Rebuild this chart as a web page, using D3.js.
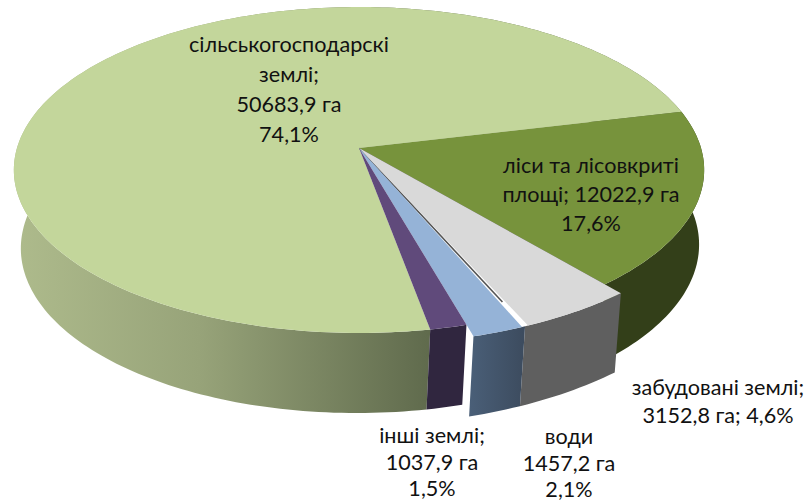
<!DOCTYPE html>
<html>
<head>
<meta charset="utf-8">
<script src="https://cdn.jsdelivr.net/npm/d3@7"></script>
<style>
html,body{margin:0;padding:0;background:#fff;}
text{font-family:Lato,"Open Sans","Noto Sans",sans-serif;font-size:21.6px;fill:#111;text-anchor:middle;}
</style>
</head>
<body>
<div id="chart"></div>
<script>
var categories = ["сільськогосподарскі землі","ліси та лісовкриті площі","забудовані землі","води","інші землі"];
var hectares = [50683.9,12022.9,3152.8,1457.2,1037.9];
var labelLines = [
    ["сільськогосподарскі","землі;","50683,9 га","74,1%"],
    ["ліси та лісовкриті","площі; 12022,9 га","17,6%"],
    ["забудовані землі;","3152,8 га; 4,6%"],
    ["води","1457,2 га","2,1%"],
    ["інші землі;","1037,9 га","1,5%"]
];

var width = 810, height = 502;
var topColors = ["#C3D69B","#77933C","#D9D9D9","#95B3D7","#604A7B"];
var sideColors = ["url(#bigSide)","#333F19","#5F5F5F","url(#blueSide)","#30263F"];
var explode = [1,1,1.065,1.065,1];
var labelPos = [[289,52],[591,173],[718,395],[569,444],[432,443]];
var lineStep = [30,29,28,26.5,26.5];

var svg = d3.select("#chart").append("svg").attr("width",width).attr("height",height);
var defs = svg.append("defs");

var bigGrad = defs.append("linearGradient").attr("id","bigSide")
    .attr("gradientUnits","userSpaceOnUse").attr("x1",13).attr("x2",428).attr("y1",0).attr("y2",0);
bigGrad.append("stop").attr("offset","0").attr("stop-color","#AEBB8C");
bigGrad.append("stop").attr("offset","0.45").attr("stop-color","#97A379");
bigGrad.append("stop").attr("offset","1").attr("stop-color","#606B4D");
var blueGrad = defs.append("linearGradient").attr("id","blueSide");
blueGrad.append("stop").attr("offset","0").attr("stop-color","#4A5F78");
blueGrad.append("stop").attr("offset","1").attr("stop-color","#3C4B5E");

// tilted disc: same projection for top and bottom rim, different sizes
var k = 0.135;
var topFace = {cx:359,cy:148,a:160,b:342,skew:0};
var lowFace = {cx:360.5,cy:224,a:163.5,b:336,skew:4};

function project(face,angle,f){
    var X = Math.sin(angle), Y = -Math.cos(angle);
    var w = 1 - k*Y;
    return [face.cx + f*face.b*X/w - face.skew*Y, face.cy + f*face.a*Y/w];
}

var pie = d3.pie().sort(null).startAngle(2.96).endAngle(2.96 + 2*Math.PI);
var arcs = pie(hectares);
var line = d3.line();

function rim(face,f,from,to){
    var n = Math.max(2,Math.ceil(Math.abs(to-from)/0.02));
    return d3.range(n+1).map(function(i){
        return project(face,from+(to-from)*i/n,f);
    });
}

// sides first, the big slice's side has to sit behind purple
[1,0,2,4,3].forEach(function(i){
    var d = arcs[i];
    var upper = rim(topFace,explode[i],d.startAngle,d.endAngle);
    var lower = rim(lowFace,explode[i],d.endAngle,d.startAngle);
    svg.append("path").attr("d",line(upper.concat(lower))+"Z").attr("fill",sideColors[i]);
});

// dark edge seen in the gaps next to the apex
[[1,"endAngle",1],[3,"startAngle",0.92]].forEach(function(e){
    var p = project(topFace,arcs[e[0]][e[1]],e[2]);
    svg.append("line").attr("x1",topFace.cx).attr("y1",topFace.cy).attr("x2",p[0]).attr("y2",p[1])
        .attr("stroke","#555").attr("stroke-width",1.6);
});

arcs.forEach(function(d,i){
    var startPad = i==3 ? 0.008 : 0;
    var endPad = i==2 ? 0.008 : 0;
    var pts = [[topFace.cx,topFace.cy]].concat(rim(topFace,explode[i],d.startAngle+startPad,d.endAngle-endPad));
    svg.append("path").attr("d",line(pts)+"Z").attr("fill",topColors[i]);
});

labelLines.forEach(function(lines,i){
    var t = svg.append("text").attr("aria-label",categories[i]);
    lines.forEach(function(s,j){
        t.append("tspan").attr("x",labelPos[i][0]).attr("y",labelPos[i][1]+j*lineStep[i]).text(s);
    });
});
</script>
</body>
</html>
